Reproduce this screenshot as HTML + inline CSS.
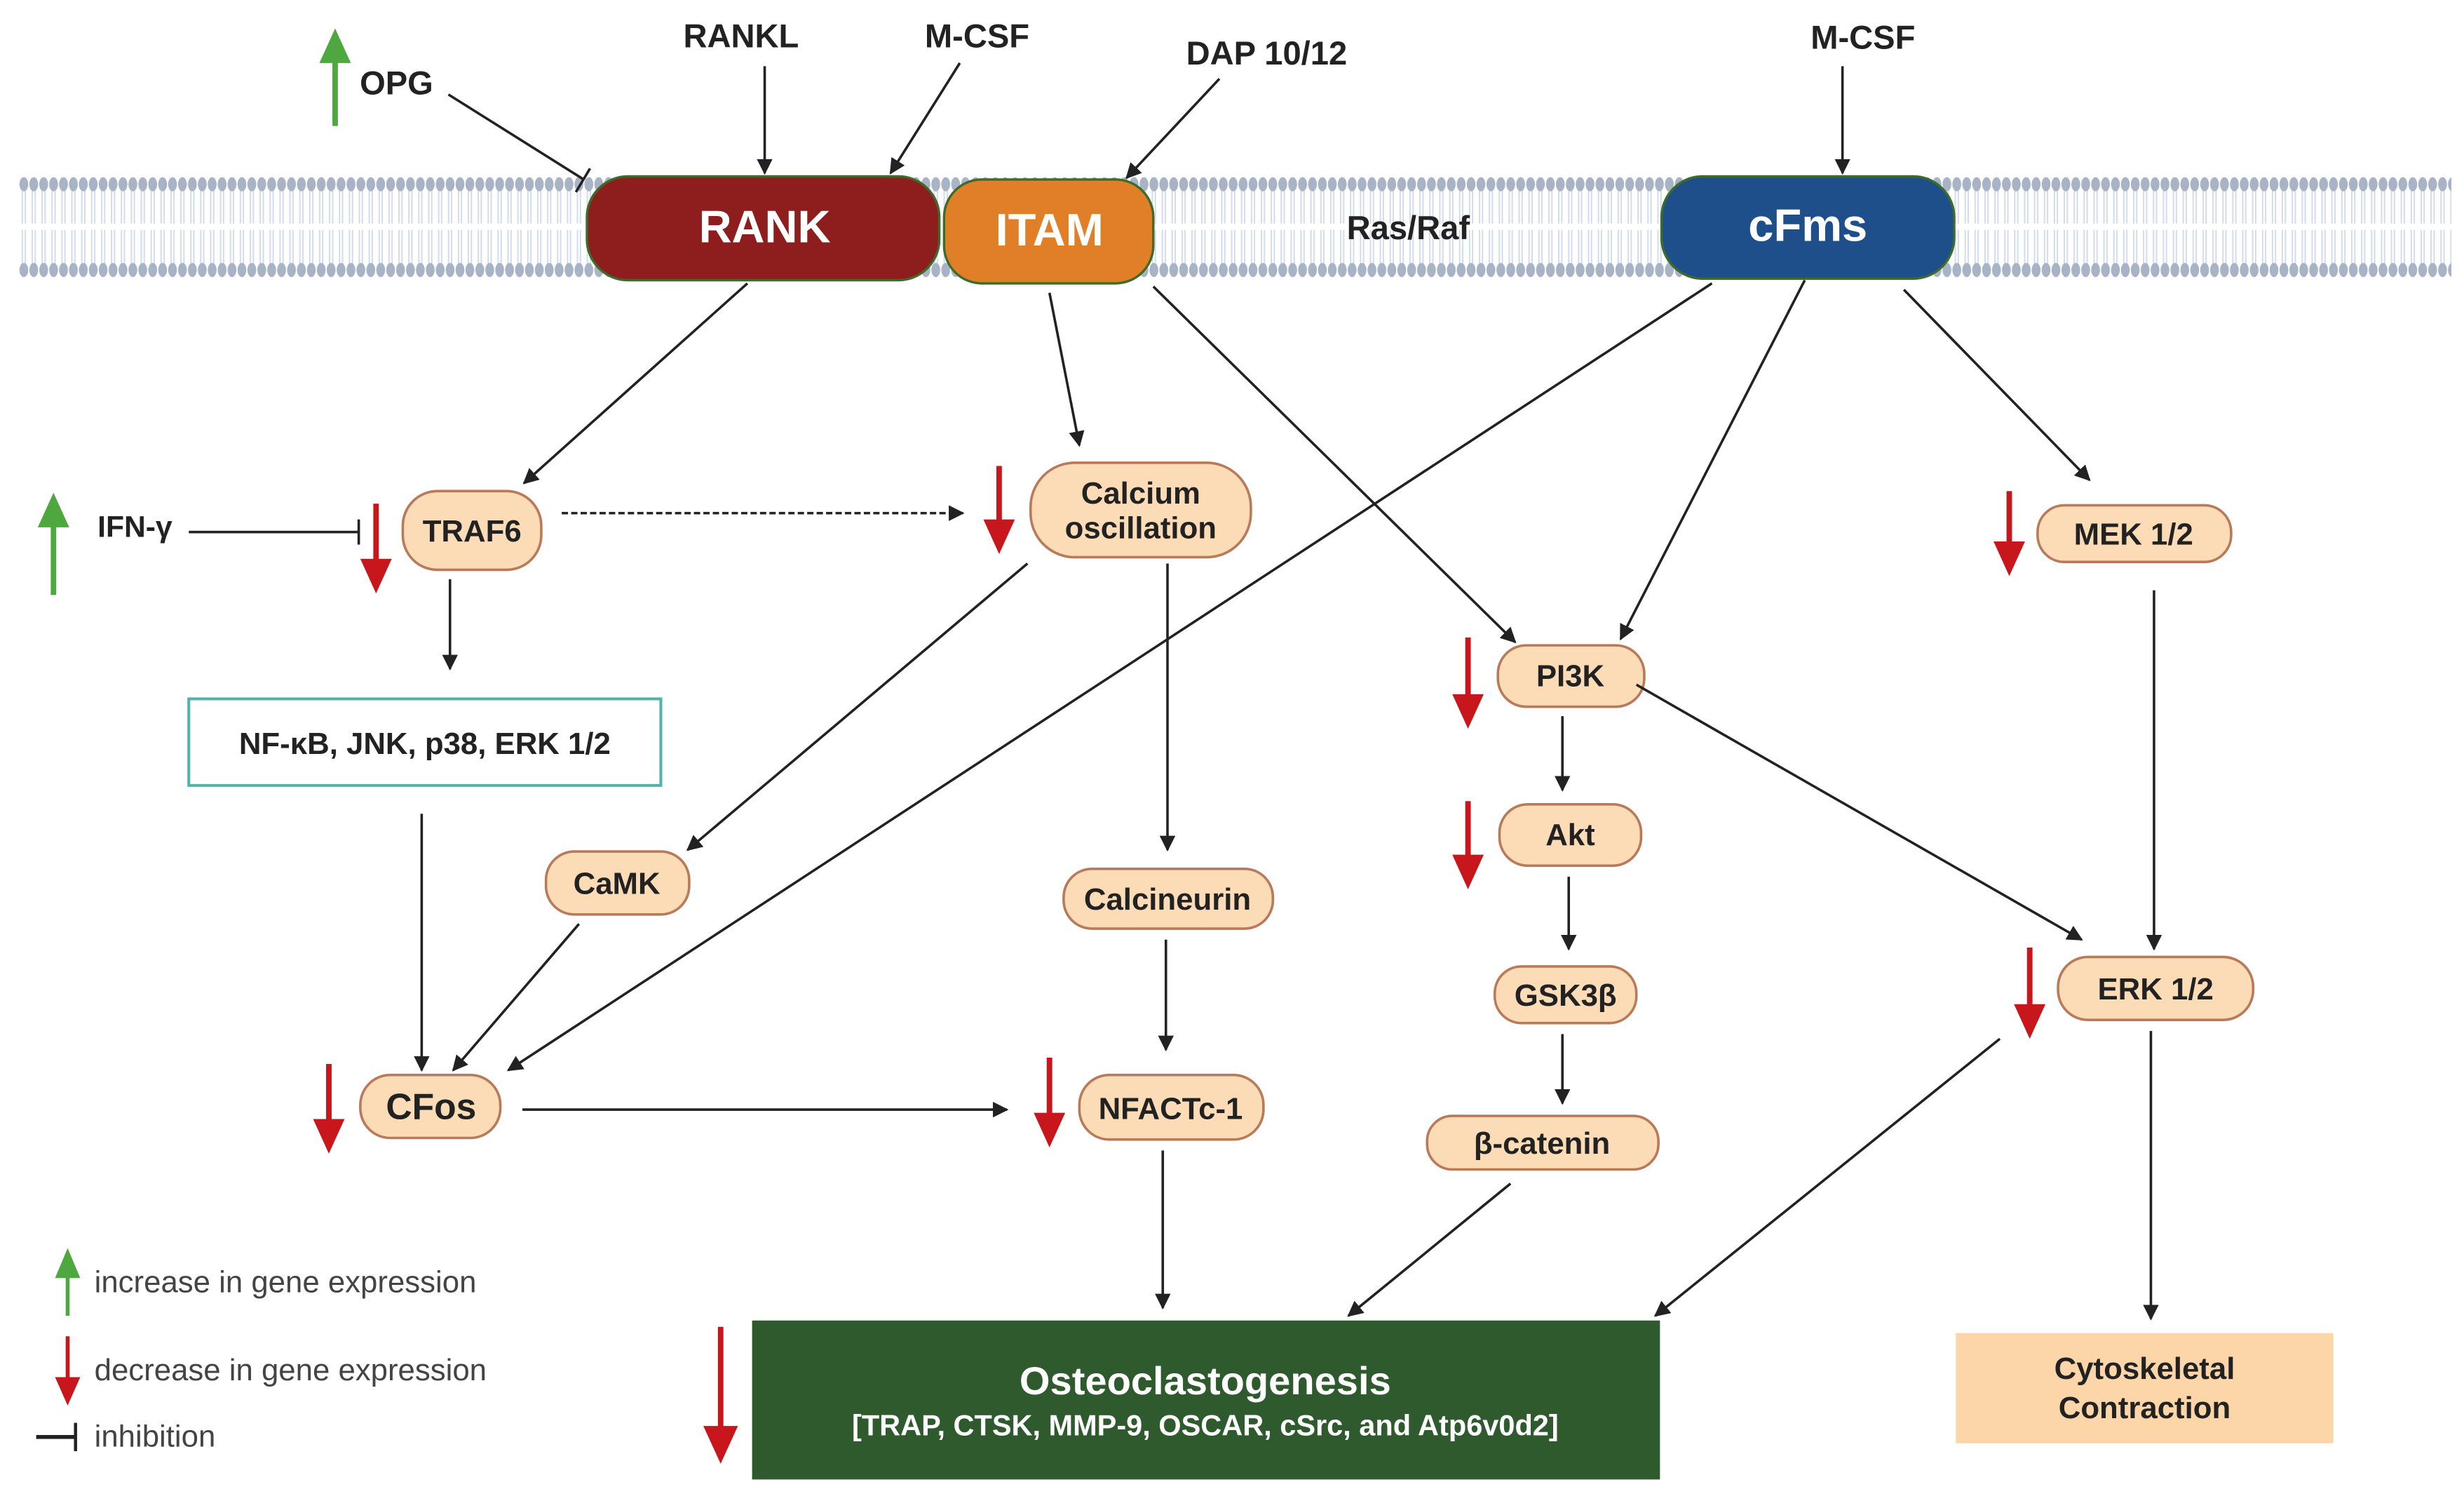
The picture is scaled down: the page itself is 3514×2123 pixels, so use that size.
<!DOCTYPE html>
<html><head><meta charset="utf-8"><style>
html,body{margin:0;padding:0;background:#fff}
svg{display:block}
text{font-family:"Liberation Sans Narrow","Liberation Sans",sans-serif;font-weight:bold}
.n{fill:#fbdcb6;stroke:#b97a5a;stroke-width:1.6}
.l{stroke:#222;stroke-width:1.6;fill:none}
.t{font-size:19.5px;fill:#222;text-anchor:middle}
.lg{font-family:"Liberation Sans",sans-serif;font-weight:normal;font-size:19.5px;fill:#444}
</style></head><body>
<svg width="3514" height="2123" viewBox="0 0 1566 946" xmlns="http://www.w3.org/2000/svg">
<defs>
<marker id="a" markerWidth="10" markerHeight="10" refX="9" refY="5" orient="auto" markerUnits="userSpaceOnUse" viewBox="0 0 10 10"><path d="M0,0 L10,5 L0,10 z" fill="#222"/></marker>
<pattern id="mem" x="12" y="108" width="6.3" height="72" patternUnits="userSpaceOnUse">
<line x1="2.2" y1="12" x2="2.2" y2="34" stroke="#d3dcea" stroke-width="0.9"/>
<line x1="4.1" y1="12" x2="4.1" y2="34" stroke="#d3dcea" stroke-width="0.9"/>
<line x1="2.2" y1="38" x2="2.2" y2="60" stroke="#d3dcea" stroke-width="0.9"/>
<line x1="4.1" y1="38" x2="4.1" y2="60" stroke="#d3dcea" stroke-width="0.9"/>
<ellipse cx="3.15" cy="9" rx="2.8" ry="4.5" fill="#a8b4c6"/>
<ellipse cx="3.15" cy="63.5" rx="2.8" ry="4.5" fill="#a8b4c6"/>
</pattern>
</defs>
<rect width="1566" height="946" fill="#fff"/>
<rect x="12" y="108" width="1546" height="72" fill="url(#mem)"/>

<rect x="373" y="112" width="224" height="66" rx="26" fill="#8e1e1e" stroke="#3d6b2a" stroke-width="1.5"/>
<text x="486" y="154" style="font-size:29px;fill:#fff;text-anchor:middle">RANK</text>
<rect x="600" y="114" width="133" height="66" rx="24" fill="#e07f27" stroke="#3d6b2a" stroke-width="1.5"/>
<text x="667" y="156" style="font-size:29px;fill:#fff;text-anchor:middle">ITAM</text>
<rect x="1056" y="112" width="186" height="65" rx="26" fill="#1f4f8a" stroke="#3d6b2a" stroke-width="1.5"/>
<text x="1149" y="153" style="font-size:29px;fill:#fff;text-anchor:middle">cFms</text>
<text x="895" y="152" class="t" style="font-size:21px">Ras/Raf</text>

<text x="471" y="30" class="t" style="font-size:21px">RANKL</text>
<text x="621" y="30" class="t" style="font-size:21px">M-CSF</text>
<text x="805" y="41" class="t" style="font-size:21px">DAP 10/12</text>
<text x="1184" y="31" class="t" style="font-size:21px">M-CSF</text>
<text x="252" y="60" class="t" style="font-size:21px">OPG</text>
<line class="l" x1="486" y1="42" x2="486" y2="110" marker-end="url(#a)"/>
<line class="l" x1="610" y1="40" x2="566" y2="110" marker-end="url(#a)"/>
<line class="l" x1="775" y1="50" x2="716" y2="113" marker-end="url(#a)"/>
<line class="l" x1="1171" y1="42" x2="1171" y2="110" marker-end="url(#a)"/>
<line class="l" x1="285" y1="60" x2="371" y2="114"/>
<line class="l" x1="366" y1="122" x2="375" y2="107"/>
<line x1="213" y1="80" x2="213" y2="38" stroke="#4ea83f" stroke-width="3.5"/>
<path d="M203,40 L213,18 L223,40 z" fill="#4ea83f"/>
<line x1="34" y1="378" x2="34" y2="333" stroke="#4ea83f" stroke-width="3.5"/>
<path d="M24,335 L34,313 L44,335 z" fill="#4ea83f"/>
<text x="62" y="341" class="t" style="text-anchor:start;font-size:19px">IFN-γ</text>
<line class="l" x1="120" y1="338" x2="228" y2="338"/>
<line class="l" x1="228" y1="330" x2="228" y2="346"/>

<rect class="n" x="256" y="312" width="88" height="50" rx="22"/>
<text x="300" y="344" class="t">TRAF6</text>
<rect class="n" x="655" y="294" width="140" height="60" rx="28"/>
<text x="725" y="320" class="t">Calcium</text>
<text x="725" y="342" class="t">oscillation</text>
<rect class="n" x="1295" y="321" width="123" height="36" rx="17"/>
<text x="1356" y="346" class="t">MEK 1/2</text>
<rect x="120" y="444" width="300" height="55" fill="#fff" stroke="#4fb3a9" stroke-width="1.8"/>
<text x="270" y="479" class="t">NF-κB, JNK, p38, ERK 1/2</text>
<rect class="n" x="952" y="410" width="93" height="39" rx="18"/>
<text x="998" y="436" class="t">PI3K</text>
<rect class="n" x="347" y="541" width="91" height="40" rx="18"/>
<text x="392" y="568" class="t">CaMK</text>
<rect class="n" x="676" y="552" width="133" height="38" rx="18"/>
<text x="742" y="578" class="t">Calcineurin</text>
<rect class="n" x="953" y="511" width="90" height="39" rx="18"/>
<text x="998" y="537" class="t">Akt</text>
<rect class="n" x="950" y="614" width="90" height="36" rx="17"/>
<text x="995" y="639" class="t">GSK3β</text>
<rect class="n" x="907" y="709" width="147" height="34" rx="16"/>
<text x="980" y="733" class="t">β-catenin</text>
<rect class="n" x="1308" y="608" width="124" height="40" rx="19"/>
<text x="1370" y="635" class="t">ERK 1/2</text>
<rect class="n" x="229" y="683" width="89" height="40" rx="19"/>
<text x="274" y="711" class="t" style="font-size:23px">CFos</text>
<rect class="n" x="686" y="683" width="117" height="41" rx="19"/>
<text x="744" y="711" class="t">NFACTc-1</text>
<rect x="478" y="839" width="577" height="101" fill="#2f5a2e"/>
<text x="766" y="886" style="font-size:25px;fill:#fff;text-anchor:middle">Osteoclastogenesis</text>
<text x="766" y="912" style="font-size:18.5px;fill:#fff;text-anchor:middle">[TRAP, CTSK, MMP-9, OSCAR, cSrc, and Atp6v0d2]</text>
<rect x="1243" y="847" width="240" height="70" fill="#fcd5a8"/>
<text x="1363" y="876" class="t">Cytoskeletal</text>
<text x="1363" y="901" class="t">Contraction</text>

<line class="l" x1="357" y1="326" x2="612" y2="326" stroke-dasharray="4,2" marker-end="url(#a)"/>
<line class="l" x1="286" y1="368" x2="286" y2="425" marker-end="url(#a)"/>
<line class="l" x1="475" y1="180" x2="333" y2="307" marker-end="url(#a)"/>
<line class="l" x1="667" y1="186" x2="686" y2="283" marker-end="url(#a)"/>
<line class="l" x1="733" y1="182" x2="963" y2="408" marker-end="url(#a)"/>
<line class="l" x1="1088" y1="180" x2="323" y2="680" marker-end="url(#a)"/>
<line class="l" x1="1147" y1="178" x2="1030" y2="406" marker-end="url(#a)"/>
<line class="l" x1="1210" y1="184" x2="1328" y2="305" marker-end="url(#a)"/>
<line class="l" x1="653" y1="358" x2="437" y2="540" marker-end="url(#a)"/>
<line class="l" x1="742" y1="358" x2="742" y2="540" marker-end="url(#a)"/>
<line class="l" x1="268" y1="517" x2="268" y2="680" marker-end="url(#a)"/>
<line class="l" x1="368" y1="587" x2="288" y2="680" marker-end="url(#a)"/>
<line class="l" x1="741" y1="597" x2="741" y2="667" marker-end="url(#a)"/>
<line class="l" x1="993" y1="455" x2="993" y2="502" marker-end="url(#a)"/>
<line class="l" x1="997" y1="557" x2="997" y2="603" marker-end="url(#a)"/>
<line class="l" x1="993" y1="657" x2="993" y2="701" marker-end="url(#a)"/>
<line class="l" x1="1040" y1="435" x2="1323" y2="597" marker-end="url(#a)"/>
<line class="l" x1="1369" y1="375" x2="1369" y2="603" marker-end="url(#a)"/>
<line class="l" x1="1367" y1="655" x2="1367" y2="838" marker-end="url(#a)"/>
<line class="l" x1="332" y1="705" x2="640" y2="705" marker-end="url(#a)"/>
<line class="l" x1="739" y1="731" x2="739" y2="831" marker-end="url(#a)"/>
<line class="l" x1="960" y1="752" x2="857" y2="836" marker-end="url(#a)"/>
<line class="l" x1="1271" y1="660" x2="1052" y2="836" marker-end="url(#a)"/>

<g fill="#c8161d" stroke="#c8161d">
<line x1="239" y1="320" x2="239" y2="357" stroke-width="3.5"/><path d="M229,355 L239,377 L249,355 z" stroke="none"/>
<line x1="635" y1="296" x2="635" y2="332" stroke-width="3.5"/><path d="M625,330 L635,352 L645,330 z" stroke="none"/>
<line x1="1277" y1="312" x2="1277" y2="346" stroke-width="3.5"/><path d="M1267,344 L1277,366 L1287,344 z" stroke="none"/>
<line x1="933" y1="405" x2="933" y2="443" stroke-width="3.5"/><path d="M923,441 L933,463 L943,441 z" stroke="none"/>
<line x1="933" y1="509" x2="933" y2="545" stroke-width="3.5"/><path d="M923,543 L933,565 L943,543 z" stroke="none"/>
<line x1="1290" y1="602" x2="1290" y2="640" stroke-width="3.5"/><path d="M1280,638 L1290,660 L1300,638 z" stroke="none"/>
<line x1="209" y1="676" x2="209" y2="713" stroke-width="3.5"/><path d="M199,711 L209,733 L219,711 z" stroke="none"/>
<line x1="667" y1="672" x2="667" y2="709" stroke-width="3.5"/><path d="M657,707 L667,729 L677,707 z" stroke="none"/>
<line x1="458" y1="843" x2="458" y2="908" stroke-width="3.5"/><path d="M447,906 L458,930 L469,906 z" stroke="none"/>
<line x1="43" y1="849" x2="43" y2="877" stroke-width="2.5"/><path d="M35,875 L43,893 L51,875 z" stroke="none"/>
</g>
<line x1="43" y1="836" x2="43" y2="810" stroke="#4ea83f" stroke-width="2.5"/>
<path d="M35,812 L43,793 L51,812 z" fill="#4ea83f"/>
<text x="60" y="821" class="lg">increase in gene expression</text>
<text x="60" y="877" class="lg">decrease in gene expression</text>
<line x1="23" y1="913" x2="48" y2="913" stroke="#222" stroke-width="2.5"/>
<line x1="48" y1="904" x2="48" y2="922" stroke="#222" stroke-width="2"/>
<text x="60" y="919" class="lg">inhibition</text>
</svg>
</body></html>
